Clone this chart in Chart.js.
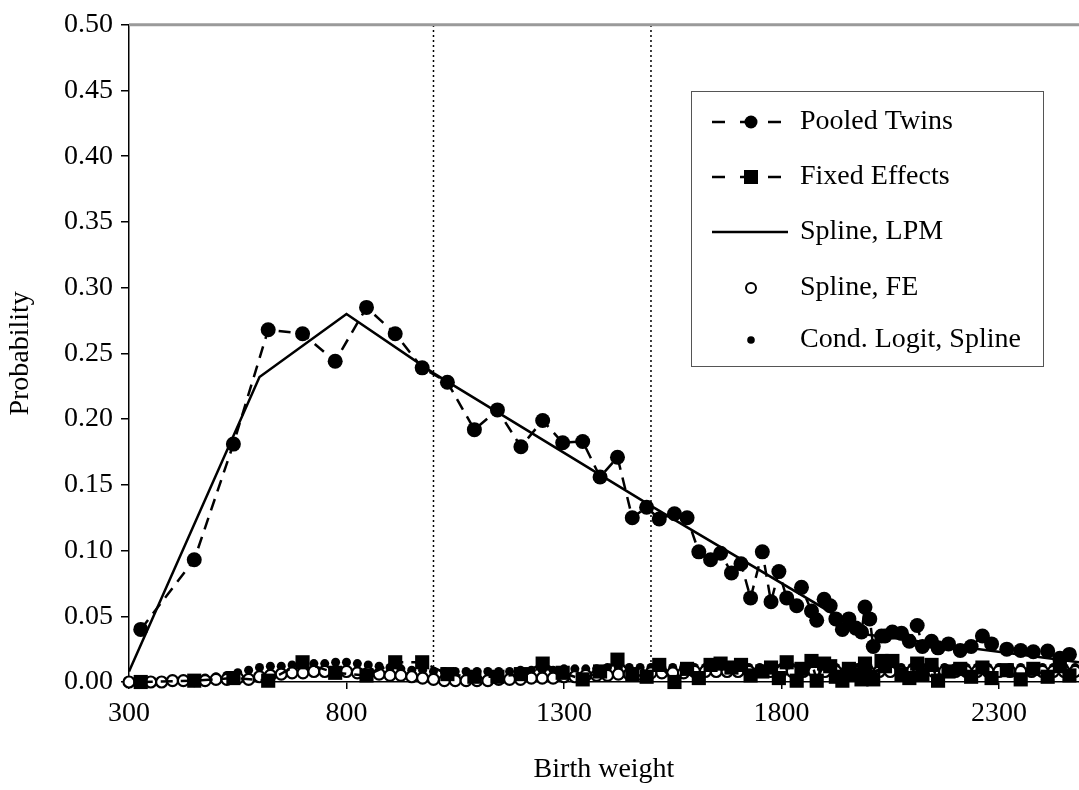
<!DOCTYPE html>
<html>
<head>
<meta charset="utf-8">
<script src="https://cdn.jsdelivr.net/npm/chart.js@4/dist/chart.umd.min.js"></script>
<style>
  html, body { margin: 0; padding: 0; background: #fff; overflow: hidden; }
  #wrap { width: 1079px; height: 790px; }
</style>
</head>
<body>
<div id="wrap"><canvas id="c" width="1079" height="790"></canvas></div>
<script>
// 出生体重 (克) 与概率
const weights = [327, 450, 540, 620, 699, 774, 846, 912, 974, 1032, 1094, 1147, 1201, 1251, 1297, 1343,
  1383, 1423, 1457, 1490, 1519, 1554, 1583, 1610, 1637, 1660, 1685, 1707, 1729, 1756, 1776, 1794,
  1812, 1835, 1846, 1869, 1881, 1898, 1912, 1925, 1940, 1955, 1971, 1984, 1992, 2003, 2011, 2030,
  2038, 2055, 2076, 2094, 2112, 2124, 2145, 2160, 2184, 2211, 2236, 2262, 2283, 2318, 2350, 2379,
  2412, 2440, 2462];
const pooledTwins = [0.040, 0.093, 0.181, 0.268, 0.265, 0.244, 0.285, 0.265, 0.239, 0.228, 0.192, 0.207, 0.179, 0.199, 0.182, 0.183,
  0.156, 0.171, 0.125, 0.133, 0.124, 0.128, 0.125, 0.099, 0.093, 0.098, 0.083, 0.090, 0.064, 0.099, 0.061, 0.084,
  0.064, 0.058, 0.072, 0.054, 0.047, 0.063, 0.058, 0.048, 0.040, 0.048, 0.041, 0.038, 0.057, 0.048, 0.027, 0.035,
  0.035, 0.038, 0.037, 0.031, 0.043, 0.027, 0.031, 0.026, 0.029, 0.024, 0.027, 0.035, 0.029, 0.025, 0.024, 0.023,
  0.0235, 0.018, 0.021];
const fixedEffects = [0.000, 0.001, 0.003, 0.001, 0.015, 0.007, 0.005, 0.015, 0.015, 0.006, 0.004, 0.004, 0.006, 0.014, 0.007, 0.002,
  0.008, 0.017, 0.006, 0.004, 0.013, 0.000, 0.010, 0.003, 0.013, 0.014, 0.011, 0.013, 0.005, 0.008, 0.011, 0.003,
  0.015, 0.001, 0.010, 0.016, 0.001, 0.014, 0.012, 0.004, 0.001, 0.010, 0.006, 0.002, 0.014, 0.004, 0.002, 0.016,
  0.012, 0.016, 0.006, 0.003, 0.014, 0.006, 0.013, 0.001, 0.008, 0.010, 0.004, 0.011, 0.003, 0.009, 0.002, 0.010,
  0.004, 0.012, 0.005];

// 线性概率模型样条的节点
const lpmKnots = [300, 600, 800, 1000, 1500, 2000, 2484];
const splineLpm = [0.008, 0.232, 0.280, 0.235, 0.134, 0.036, 0.015];

// 样条 FE 与条件 Logit 的细网格
const grid = [300, 325, 350, 375, 400, 425, 450, 475, 500, 525, 550, 575, 600, 625, 650, 675,
  700, 725, 750, 775, 800, 825, 850, 875, 900, 925, 950, 975, 1000, 1025, 1050, 1075,
  1100, 1125, 1150, 1175, 1200, 1225, 1250, 1275, 1300, 1325, 1350, 1375, 1400, 1425, 1450, 1475,
  1500, 1525, 1550, 1575, 1600, 1625, 1650, 1675, 1700, 1725, 1750, 1775, 1800, 1825, 1850, 1875,
  1900, 1925, 1950, 1975, 2000, 2025, 2050, 2075, 2100, 2125, 2150, 2175, 2200, 2225, 2250, 2275,
  2300, 2325, 2350, 2375, 2400, 2425, 2450, 2475];
const splineFe = [0.000, 0.000, 0.000, 0.000, 0.001, 0.001, 0.001, 0.001, 0.002, 0.002, 0.003, 0.002, 0.004, 0.005, 0.006, 0.007,
  0.007, 0.008, 0.008, 0.008, 0.008, 0.007, 0.007, 0.006, 0.005, 0.005, 0.004, 0.003, 0.002, 0.001, 0.001, 0.001,
  0.001, 0.001, 0.002, 0.002, 0.002, 0.003, 0.003, 0.003, 0.004, 0.004, 0.005, 0.005, 0.005, 0.006, 0.006, 0.006,
  0.007, 0.007, 0.007, 0.007, 0.008, 0.008, 0.008, 0.008, 0.008, 0.008, 0.008, 0.008, 0.008, 0.008, 0.008, 0.008,
  0.008, 0.008, 0.008, 0.008, 0.008, 0.008, 0.008, 0.008, 0.008, 0.008, 0.008, 0.008, 0.008, 0.008, 0.008, 0.008,
  0.008, 0.008, 0.008, 0.008, 0.008, 0.008, 0.008, 0.008];
const condLogit = [0.001, 0.001, 0.001, 0.001, 0.002, 0.002, 0.002, 0.003, 0.004, 0.005, 0.007, 0.009, 0.011, 0.012, 0.012, 0.013,
  0.013, 0.014, 0.014, 0.015, 0.015, 0.014, 0.013, 0.012, 0.011, 0.010, 0.009, 0.009, 0.008, 0.008, 0.008, 0.008,
  0.008, 0.008, 0.008, 0.008, 0.009, 0.009, 0.009, 0.009, 0.010, 0.010, 0.010, 0.010, 0.011, 0.011, 0.011, 0.011,
  0.011, 0.011, 0.011, 0.011, 0.011, 0.011, 0.011, 0.011, 0.011, 0.011, 0.011, 0.011, 0.011, 0.011, 0.011, 0.011,
  0.011, 0.011, 0.011, 0.011, 0.011, 0.011, 0.011, 0.011, 0.011, 0.011, 0.011, 0.011, 0.011, 0.011, 0.011, 0.011,
  0.011, 0.011, 0.011, 0.011, 0.011, 0.011, 0.011, 0.011];

// 虚线竖线位置
const cutoffs = [1000, 1500];
const xTicks = [300, 800, 1300, 1800, 2300];

const FONT = "'Liberation Serif', 'Times New Roman', serif";
const pts = (xs, ys) => xs.map((x, i) => ({ x: x, y: ys[i] }));

const datasets = [
  {
    label: 'Pooled Twins',
    data: pts(weights, pooledTwins),
    borderColor: '#000', backgroundColor: '#000',
    borderWidth: 2.5, borderDash: [12, 8],
    pointStyle: 'circle', pointRadius: 7.5, pointBorderWidth: 0,
    tension: 0, clip: false
  },
  {
    label: 'Fixed Effects',
    data: pts(weights, fixedEffects),
    borderColor: '#000', backgroundColor: '#000',
    borderWidth: 2.5, borderDash: [12, 8],
    pointStyle: 'rect', pointRadius: 10, pointBorderWidth: 0,
    tension: 0, clip: false
  },
  {
    label: 'Spline, LPM',
    data: pts(lpmKnots, splineLpm),
    borderColor: '#000', borderWidth: 2.5,
    pointRadius: 0, tension: 0, clip: false
  },
  {
    label: 'Spline, FE',
    data: pts(grid, splineFe),
    showLine: false,
    borderColor: '#000', backgroundColor: '#fff',
    pointStyle: 'circle', pointRadius: 5.5, pointBorderWidth: 2.2, clip: false
  },
  {
    label: 'Cond. Logit, Spline',
    data: pts(grid, condLogit),
    showLine: false,
    borderColor: '#000', backgroundColor: '#000',
    pointStyle: 'circle', pointRadius: 4.5, pointBorderWidth: 0, clip: false
  }
];
cutoffs.forEach(c => {
  datasets.push({
    label: '',
    data: [{ x: c, y: 0 }, { x: c, y: 0.5 }],
    borderColor: '#000', borderWidth: 1.5, borderDash: [2, 3],
    pointRadius: 0, clip: false
  });
});

// 图内图例框 + 顶部灰色边框
const boxLegend = {
  id: 'boxLegend',
  afterDatasetsDraw(chart) {
    const ctx = chart.ctx;
    const a = chart.chartArea;
    ctx.save();
    ctx.strokeStyle = '#9a9a9a';
    ctx.lineWidth = 3;
    ctx.beginPath();
    ctx.moveTo(a.left, a.top);
    ctx.lineTo(a.right, a.top);
    ctx.stroke();

    const bx = 691, by = 91, bw = 352, bh = 275;
    ctx.fillStyle = '#fff';
    ctx.fillRect(bx, by, bw, bh);
    ctx.strokeStyle = '#555';
    ctx.lineWidth = 1;
    ctx.strokeRect(bx + 0.5, by + 0.5, bw, bh);

    const rows = [122, 177, 232, 288, 340];
    const x0 = 712, x1 = 785, mx = 751;
    ctx.fillStyle = '#000';
    ctx.strokeStyle = '#000';
    ctx.font = '28px ' + FONT;
    ctx.textBaseline = 'middle';
    ctx.textAlign = 'left';
    datasets.slice(0, 5).forEach((ds, i) => {
      const y = rows[i];
      ctx.lineWidth = 2.5;
      if (i < 2) {
        ctx.setLineDash([13, 15]);
        ctx.beginPath(); ctx.moveTo(x0, y); ctx.lineTo(x1, y); ctx.stroke();
        ctx.setLineDash([]);
        if (i === 0) {
          ctx.beginPath(); ctx.arc(mx, y, 6.5, 0, Math.PI * 2); ctx.fill();
        } else {
          ctx.fillRect(mx - 7, y - 7, 14, 14);
        }
      } else if (i === 2) {
        ctx.beginPath(); ctx.moveTo(x0, y); ctx.lineTo(x1 + 3, y); ctx.stroke();
      } else if (i === 3) {
        ctx.lineWidth = 2;
        ctx.beginPath(); ctx.arc(mx, y, 5, 0, Math.PI * 2); ctx.stroke();
      } else {
        ctx.beginPath(); ctx.arc(mx, y, 3.8, 0, Math.PI * 2); ctx.fill();
      }
      ctx.fillText(ds.label, 800, y);
    });
    ctx.restore();
  }
};

new Chart(document.getElementById('c'), {
  type: 'line',
  data: { datasets: datasets },
  plugins: [boxLegend],
  options: {
    responsive: false,
    devicePixelRatio: 1,
    animation: false,
    layout: { autoPadding: false, padding: { top: 22, right: 0, left: 0, bottom: 0 } },
    plugins: { legend: { display: false }, tooltip: { enabled: false } },
    scales: {
      x: {
        type: 'linear',
        min: 300, max: 2484,
        afterBuildTicks: s => { s.ticks = xTicks.map(v => ({ value: v })); },
        afterFit: s => { s.height = 108; s.paddingRight = 0; },
        border: { color: '#000', width: 1.5 },
        grid: { display: true, drawOnChartArea: false, tickLength: 7, color: '#000', lineWidth: 1.5 },
        ticks: { color: '#000', font: { family: FONT, size: 28 }, padding: 8, maxRotation: 0,
                 callback: v => String(v) },
        title: { display: true, text: 'Birth weight', color: '#000', font: { family: FONT, size: 28 }, padding: { top: 4 } }
      },
      y: {
        min: 0, max: 0.5,
        afterFit: s => { s.width = 129; },
        border: { color: '#000', width: 1.5 },
        grid: { display: true, drawOnChartArea: false, tickLength: 8, color: '#000', lineWidth: 1.5 },
        ticks: { stepSize: 0.05, color: '#000', font: { family: FONT, size: 28 }, padding: 8,
                 callback: v => v.toFixed(2) },
        title: { display: true, text: 'Probability', color: '#000', font: { family: FONT, size: 28 }, padding: { bottom: 4 } }
      }
    }
  }
});
</script>
</body>
</html>
